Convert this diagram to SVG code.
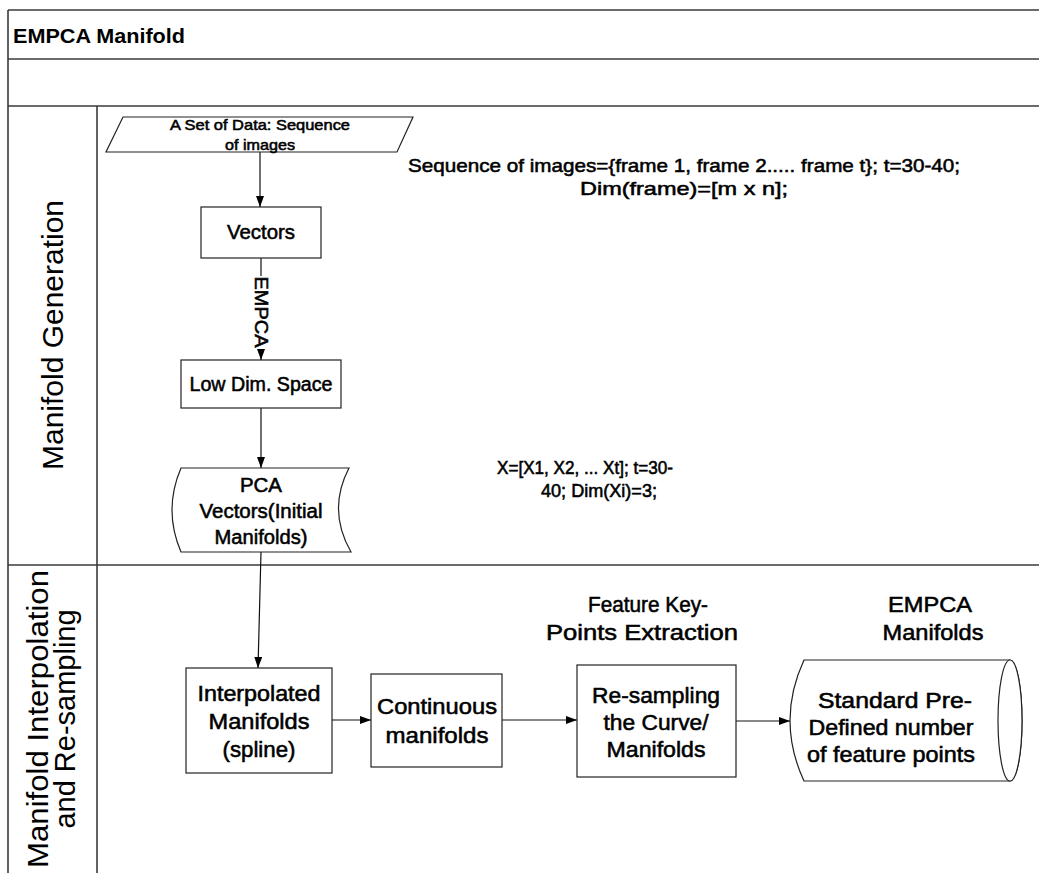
<svg xmlns="http://www.w3.org/2000/svg" width="1039" height="873" viewBox="0 0 1039 873">
  <style>
    .frame { stroke: #3a3a3a; stroke-width: 1.6; fill: none; }
    .shape { stroke: #222; stroke-width: 1.2; fill: #fff; }
    .edge { stroke: #111; stroke-width: 1.2; fill: none; }
    .t { font-family: "Liberation Sans", Arial, sans-serif; fill: #000; stroke: #000; stroke-width: 0.55; text-anchor: middle; }
    .title { font-family: "Liberation Sans", Arial, sans-serif; font-weight: bold; fill: #000; }
    .lane { font-family: "Liberation Sans", Arial, sans-serif; font-size: 29px; fill: #000; text-anchor: middle; }
  </style>
  <defs>
    <marker id="arrow" viewBox="0 0 11 8" refX="11" refY="4" markerWidth="11" markerHeight="8" markerUnits="userSpaceOnUse" orient="auto">
      <path d="M0,0 L11,4 L0,8 Z" fill="#000"/>
    </marker>
  </defs>
  <rect width="1039" height="873" fill="#fff"/>

  <!-- swimlane frame -->
  <g id="frame">
    <line class="frame" x1="8" y1="10" x2="1039" y2="10"/>
    <line class="frame" x1="8" y1="10" x2="8" y2="873"/>
    <line class="frame" x1="8" y1="59" x2="1039" y2="59"/>
    <line class="frame" x1="8" y1="106" x2="1039" y2="106"/>
    <line class="frame" x1="8" y1="565" x2="1039" y2="565"/>
    <line class="frame" x1="97" y1="106" x2="97" y2="873"/>
    <text class="title" x="13" y="43" font-size="20" textLength="172" lengthAdjust="spacingAndGlyphs">EMPCA Manifold</text>
  </g>

  <g id="lane-generation">
    <text class="lane" transform="translate(63,335) rotate(-90)" textLength="270" lengthAdjust="spacingAndGlyphs">Manifold Generation</text>
  </g>
  <g id="lane-interpolation">
    <text class="lane" transform="translate(48,719) rotate(-90)" textLength="298" lengthAdjust="spacingAndGlyphs">Manifold Interpolation</text>
    <text class="lane" transform="translate(75,719) rotate(-90)">and Re-sampling</text>
  </g>

  <!-- connectors -->
  <g id="connectors">
    <line class="edge" x1="260" y1="152" x2="260" y2="207" marker-end="url(#arrow)"/>
    <line class="edge" x1="261" y1="258" x2="261" y2="360" marker-end="url(#arrow)"/>
    <line class="edge" x1="261" y1="408" x2="261" y2="468" marker-end="url(#arrow)"/>
    <line class="edge" x1="261" y1="552" x2="258" y2="668" marker-end="url(#arrow)"/>
    <line class="edge" x1="332" y1="720" x2="371" y2="720" marker-end="url(#arrow)"/>
    <line class="edge" x1="502" y1="720" x2="577" y2="720" marker-end="url(#arrow)"/>
    <line class="edge" x1="736" y1="721" x2="790" y2="721" marker-end="url(#arrow)"/>
    <!-- label on the Vectors -> Low Dim. Space edge -->
    <rect x="252" y="276" width="18" height="73" fill="#fff"/>
    <text class="t" font-size="18" transform="translate(255,312) rotate(90)" textLength="71" lengthAdjust="spacingAndGlyphs">EMPCA</text>
  </g>

  <g id="node-data">
    <polygon class="shape" points="123,117 413,117 397,152 106,152"/>
    <text class="t" x="260" y="130" font-size="15" textLength="180" lengthAdjust="spacingAndGlyphs">A Set of Data: Sequence</text>
    <text class="t" x="260" y="150" font-size="15" textLength="70" lengthAdjust="spacingAndGlyphs">of images</text>
  </g>

  <g id="note-sequence">
    <text class="t" x="684" y="172" font-size="19" textLength="552" lengthAdjust="spacingAndGlyphs">Sequence of images={frame 1, frame 2..... frame t}; t=30-40;</text>
    <text class="t" x="684" y="195" font-size="19" textLength="208" lengthAdjust="spacingAndGlyphs">Dim(frame)=[m x n];</text>
  </g>

  <g id="node-vectors">
    <rect class="shape" x="201" y="207" width="120" height="51"/>
    <text class="t" x="261" y="239" font-size="21" textLength="68" lengthAdjust="spacingAndGlyphs">Vectors</text>
  </g>

  <g id="node-lowdim">
    <rect class="shape" x="181" y="360" width="160" height="48"/>
    <text class="t" x="261" y="391" font-size="20" textLength="143" lengthAdjust="spacingAndGlyphs">Low Dim. Space</text>
  </g>

  <g id="node-pca">
    <path class="shape" d="M181,468 L349,468 Q327,510 351,552 L181,552 Q163,510 181,468 Z"/>
    <text class="t" x="261" y="492" font-size="20" textLength="42" lengthAdjust="spacingAndGlyphs">PCA</text>
    <text class="t" x="261" y="518" font-size="20" textLength="123" lengthAdjust="spacingAndGlyphs">Vectors(Initial</text>
    <text class="t" x="261" y="544" font-size="20" textLength="93" lengthAdjust="spacingAndGlyphs">Manifolds)</text>
  </g>

  <g id="note-pca">
    <text class="t" x="585" y="474" font-size="18" textLength="176" lengthAdjust="spacingAndGlyphs">X=[X1, X2, ... Xt]; t=30-</text>
    <text class="t" x="599" y="497" font-size="18" textLength="116" lengthAdjust="spacingAndGlyphs">40; Dim(Xi)=3;</text>
  </g>

  <g id="node-interpolated">
    <rect class="shape" x="186" y="668" width="146" height="105"/>
    <text class="t" x="259" y="701" font-size="22" textLength="123" lengthAdjust="spacingAndGlyphs">Interpolated</text>
    <text class="t" x="259" y="729" font-size="22" textLength="101" lengthAdjust="spacingAndGlyphs">Manifolds</text>
    <text class="t" x="259" y="757" font-size="22" textLength="73" lengthAdjust="spacingAndGlyphs">(spline)</text>
  </g>

  <g id="node-continuous">
    <rect class="shape" x="371" y="674" width="131" height="93"/>
    <text class="t" x="437" y="714" font-size="22" textLength="120" lengthAdjust="spacingAndGlyphs">Continuous</text>
    <text class="t" x="437" y="743" font-size="22" textLength="103" lengthAdjust="spacingAndGlyphs">manifolds</text>
  </g>

  <g id="node-resampling">
    <text class="t" x="648" y="612" font-size="22" textLength="120" lengthAdjust="spacingAndGlyphs">Feature Key-</text>
    <text class="t" x="642" y="640" font-size="22" textLength="192" lengthAdjust="spacingAndGlyphs">Points Extraction</text>
    <rect class="shape" x="577" y="665" width="159" height="112"/>
    <text class="t" x="656" y="703" font-size="22" textLength="128" lengthAdjust="spacingAndGlyphs">Re-sampling</text>
    <text class="t" x="656" y="730" font-size="22" textLength="105" lengthAdjust="spacingAndGlyphs">the Curve/</text>
    <text class="t" x="656" y="757" font-size="22" textLength="99" lengthAdjust="spacingAndGlyphs">Manifolds</text>
  </g>

  <g id="node-empca-manifolds">
    <text class="t" x="930" y="612" font-size="22" textLength="84" lengthAdjust="spacingAndGlyphs">EMPCA</text>
    <text class="t" x="933" y="640" font-size="22" textLength="101" lengthAdjust="spacingAndGlyphs">Manifolds</text>
    <path class="shape" d="M804,660 L1010,660 A12,60.5 0 0 1 1010,781 L804,781 Q776,720.5 804,660 Z"/>
    <ellipse class="shape" cx="1010" cy="720.5" rx="12" ry="60.5" fill="none"/>
    <text class="t" x="895" y="708" font-size="22" textLength="154" lengthAdjust="spacingAndGlyphs">Standard Pre-</text>
    <text class="t" x="891" y="735" font-size="22" textLength="165" lengthAdjust="spacingAndGlyphs">Defined number</text>
    <text class="t" x="891" y="762" font-size="22" textLength="168" lengthAdjust="spacingAndGlyphs">of feature points</text>
  </g>
</svg>
